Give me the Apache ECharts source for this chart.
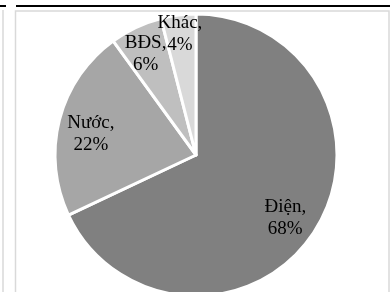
<!DOCTYPE html>
<html>
<head>
<meta charset="utf-8">
<script src="https://cdn.jsdelivr.net/npm/echarts@6/dist/echarts.min.js"></script>
<style>
  html, body { margin: 0; padding: 0; background: #fff; }
  #chart { width: 392px; height: 292px; }
</style>
</head>
<body>
<div id="chart"></div>
<script>
const categories = ['Điện', 'Nước', 'BĐS', 'Khác']
const shares = [68, 22, 6, 4]
const colors = ['#808080', '#a6a6a6', '#bfbfbf', '#d9d9d9']

const center = [196, 155]
const radius = 141
// how far out each label sits, as part of the radius
const labelRatio = [0.75, 0.77, 0.84, 0.91]

const total = shares.reduce((a, b) => a + b, 0)

function labelPos (i) {
  let before = 0
  for (let k = 0; k < i; k++) before += shares[k]
  const mid = (90 - 360 * (before + shares[i] / 2) / total) * Math.PI / 180
  const r = radius * labelRatio[i]
  return [center[0] + r * Math.cos(mid), center[1] - r * Math.sin(mid) + 6]
}

const chart = echarts.init(document.getElementById('chart'))

const option = {
  animation: false,
  graphic: [
    { type: 'line', shape: { x1: 0, y1: 6, x2: 6, y2: 6 }, style: { stroke: '#000', lineWidth: 2 } },
    { type: 'line', shape: { x1: 16, y1: 6, x2: 390, y2: 6 }, style: { stroke: '#000', lineWidth: 2 } },
    { type: 'line', shape: { x1: 3, y1: 10, x2: 3, y2: 292 }, style: { stroke: '#d9d9d9', lineWidth: 1.5 } },
    { type: 'rect', shape: { x: 15.5, y: 11, width: 373.5, height: 300 }, style: { fill: 'none', stroke: '#d9d9d9', lineWidth: 1.5 } }
  ],
  series: [
    {
      type: 'pie',
      center: center,
      radius: [0, radius],
      startAngle: 90,
      clockwise: true,
      silent: true,
      avoidLabelOverlap: false,
      itemStyle: { borderColor: '#fff', borderWidth: 3 },
      label: {
        show: true,
        position: 'inside',
        fontFamily: 'Liberation Serif',
        fontSize: 19,
        lineHeight: 22,
        color: '#000',
        formatter: p => p.name + ',\n' + p.value + '%'
      },
      labelLine: { show: false },
      labelLayout: params => {
        const p = labelPos(params.dataIndex)
        return { x: p[0], y: p[1], align: 'center', verticalAlign: 'middle', hideOverlap: false }
      },
      data: categories.map((name, i) => ({
        name: name,
        value: shares[i],
        itemStyle: { color: colors[i] }
      }))
    }
  ]
}

chart.setOption(option)
</script>
</body>
</html>
